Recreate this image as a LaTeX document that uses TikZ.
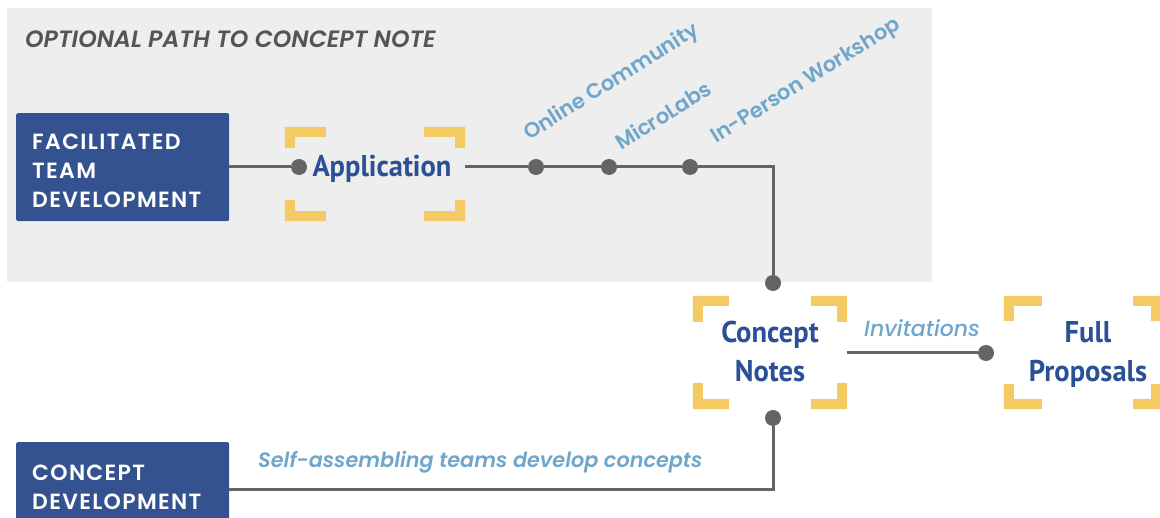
\documentclass[tikz,border=0pt]{standalone}
\usepackage{fontspec}
\setmainfont{Poppins}
\newfontfamily\popm{Poppins Medium}
\newfontfamily\popsb{Poppins SemiBold}
\newfontfamily\popbox{Poppins SemiBold}[LetterSpace=6]
\newfontfamily\cond{PT Sans}[FakeStretch=0.95]
\definecolor{boxblue}{RGB}{53,82,144}
\definecolor{txtblue}{RGB}{43,80,150}
\definecolor{lblue}{RGB}{111,166,203}
\definecolor{yel}{RGB}{243,202,100}
\definecolor{lngray}{RGB}{100,100,100}
\definecolor{bggray}{RGB}{238,238,238}
\definecolor{hdgray}{RGB}{85,85,85}
\newcommand\yelcorners[4]{%
  \fill[yel] (#1.north west) -- ++(#2,0) -- ++(0,10) -- ++(-#2+10,0) -- ++(0,#4-10) -- ++(-10,0) -- cycle;
  \fill[yel] (#1.north east) -- ++(-#3,0) -- ++(0,10) -- ++(#3-10,0) -- ++(0,#4-10) -- ++(10,0) -- cycle;
  \fill[yel] (#1.south west) -- ++(#2,0) -- ++(0,-10) -- ++(-#2+10,0) -- ++(0,-#4+10) -- ++(-10,0) -- cycle;
  \fill[yel] (#1.south east) -- ++(-#3,0) -- ++(0,-10) -- ++(#3-10,0) -- ++(0,-#4+10) -- ++(10,0) -- cycle;}
\tikzset{
  bluebox/.style={fill=boxblue, draw=none, rounded corners=1.5pt, anchor=north west, inner sep=0},
  boxtext/.style={text=white, align=left, inner sep=0, anchor=base west, font=\popbox\fontsize{22}{29}\selectfont},
  frame/.style={draw=none, inner sep=0},
  bigtext/.style={text=txtblue, align=center, inner sep=0, anchor=base, font=\cond\bfseries\fontsize{30}{39}\selectfont},
  dot/.style={circle, fill=lngray, inner sep=0, minimum size=16},
  conn/.style={draw=lngray, line width=3},
  rlabel/.style={text=lblue, inner sep=0, anchor=base west, rotate=32, font=\popsb\fontsize{21}{25}\selectfont},
}
\begin{document}
\begin{tikzpicture}[x=1pt,y=-1pt]
\useasboundingbox (0,0) rectangle (1160,518);
\fill[bggray] (7,8) rectangle (932,282);
\node[inner sep=0, anchor=base west, text=hdgray, font=\popsb\itshape\fontsize{23.6}{27}\selectfont] (hdr) at (25,48) {OPTIONAL PATH TO CONCEPT NOTE};

% boxes
\node[bluebox, minimum width=213, minimum height=108] (ftd) at (16,113) {};
\node[boxtext] (ftdt) at (32,208) {FACILITATED\\TEAM\\DEVELOPMENT};
\node[bluebox, minimum width=213, minimum height=94] (cd) at (16,442) {};
\node[boxtext] (cdt) at (32,510) {CONCEPT\\DEVELOPMENT};

% frames and big texts
\node[frame, minimum width=180, minimum height=94] (appf) at (375,174) {};
\yelcorners{appf}{41}{41}{21}
\node[bigtext] (app) at (382,177) {Application};
\node[frame, minimum width=154, minimum height=113] (cnf) at (770,352.5) {};
\yelcorners{cnf}{36}{36}{26}
\node[bigtext] (cn) at (770,382) {Concept\\Notes};
\node[frame, minimum width=157, minimum height=113] (fpf) at (1082.5,352.5) {};
\yelcorners{fpf}{38}{28}{25}
\node[bigtext] (fp) at (1088,382) {Full\\Proposals};

% dots
\node[dot] (a1) at (299,167) {};
\node[dot] (b1) at (536,167) {};
\node[dot] (b2) at (609,167) {};
\node[dot] (b3) at (690,167) {};
\node[dot] (c1) at (773,283) {};
\node[dot] (c2) at (773,418) {};
\node[dot] (d1) at (986,353) {};

% connectors
\draw[conn] (ftd.east |- a1) -- (a1);
\draw[conn] (appf.east |- b1) -- (b1) -- (b2) -- (b3) -| (c1);
\draw[conn] (c2) |- (cd.east);
\draw[conn] (cnf.east |- d1) -- (d1);

% labels
\node[rlabel] (l1) at (529,141) {Online Community};
\node[rlabel] (l2) at (621,151) {MicroLabs};
\node[rlabel] (l3) at (716,144) {In-Person Workshop};
\node[inner sep=0, anchor=base west, text=lblue, font=\popm\itshape\fontsize{22}{26}\selectfont] (inv) at (864,337) {Invitations};
\node[inner sep=0, anchor=base west, text=lblue, font=\popsb\itshape\fontsize{20.8}{25}\selectfont] (sa) at (258,468) {Self-assembling teams develop concepts};
\end{tikzpicture}
\end{document}
